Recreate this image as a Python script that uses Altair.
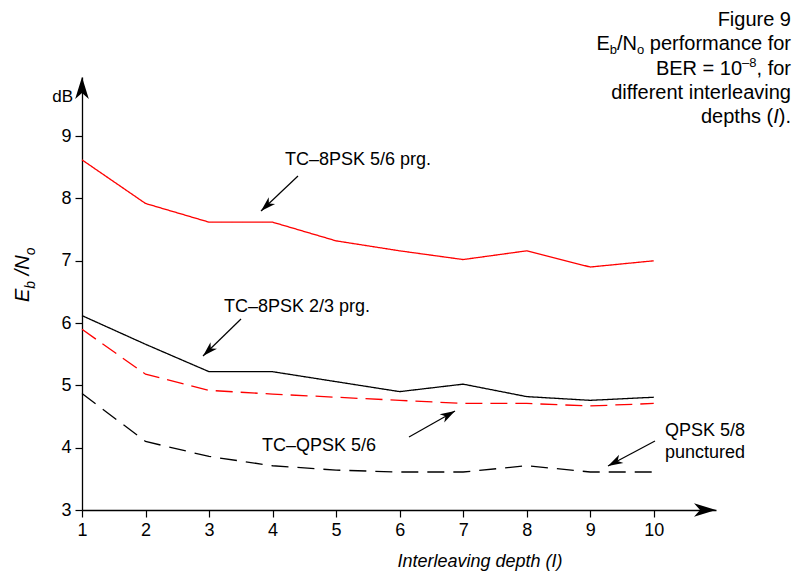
import math
import altair as alt
import pandas as pd

# ---------------- data ----------------
depth = [1, 2, 3, 4, 5, 6, 7, 8, 9, 10]
tc8psk_56 = [8.62, 7.92, 7.62, 7.62, 7.32, 7.16, 7.02, 7.16, 6.90, 7.00]
tc8psk_23 = [6.12, 5.66, 5.22, 5.22, 5.06, 4.90, 5.02, 4.82, 4.76, 4.81]
tcqpsk_56 = [5.90, 5.18, 4.92, 4.86, 4.81, 4.76, 4.71, 4.71, 4.67, 4.71]
qpsk_58 = [4.87, 4.10, 3.86, 3.71, 3.64, 3.61, 3.61, 3.71, 3.61, 3.61]
series_names = ["TC-8PSK 5/6 prg.", "TC-8PSK 2/3 prg.", "TC-QPSK 5/6", "QPSK 5/8 punctured"]
series_values = [tc8psk_56, tc8psk_23, tcqpsk_56, qpsk_58]
series_colors = ["#ff0000", "#000000", "#ff0000", "#000000"]
series_dash = [[1, 0], [1, 0], [17, 8], [17, 9]]
x_ticks = [1, 2, 3, 4, 5, 6, 7, 8, 9, 10]
y_ticks = [3, 4, 5, 6, 7, 8, 9]

FONT = "Liberation Sans"
W, H = 634, 433
X_DOMAIN = [1, 10.98]
Y_DOMAIN = [3, 9.95]
OX, OY = 82, 77  # page position of plot origin

rows = []
for name, vals in zip(series_names, series_values):
    for d, v in zip(depth, vals):
        rows.append({"series": name, "depth": d, "ebno": v})
df = pd.DataFrame(rows)

xs = alt.Scale(domain=X_DOMAIN, nice=False, zero=False)
ys = alt.Scale(domain=Y_DOMAIN, nice=False, zero=False)

lines = alt.Chart(df).mark_line(strokeWidth=1.3).encode(
    x=alt.X("depth:Q", scale=xs,
            axis=alt.Axis(values=x_ticks, title=None, grid=False, tickSize=7,
                          labelFontSize=18, labelFont=FONT, labelPadding=4,
                          domainColor="black", tickColor="black", labelColor="black",
                          domainWidth=1.3, tickWidth=1.2, labelFlush=False)),
    y=alt.Y("ebno:Q", scale=ys,
            axis=alt.Axis(values=y_ticks, title=None, grid=False, tickSize=7,
                          labelFontSize=18, labelFont=FONT, labelPadding=4,
                          domainColor="black", tickColor="black", labelColor="black",
                          domainWidth=1.3, tickWidth=1.2, labelFlush=False)),
    color=alt.Color("series:N", scale=alt.Scale(domain=series_names, range=series_colors), legend=None),
    strokeDash=alt.StrokeDash("series:N", scale=alt.Scale(domain=series_names, range=series_dash), legend=None),
    detail="series:N",
)

layers = [lines]
one = pd.DataFrame({"a": [0]})

WID = {" ": 278, "(": 333, ")": 333, ",": 278, ".": 278, "/": 278, "=": 584, "–": 556,
       "B": 667, "E": 667, "F": 611, "I": 278, "N": 722, "R": 722, "a": 556, "b": 556,
       "c": 500, "d": 556, "e": 556, "f": 278, "g": 556, "h": 556, "i": 222, "l": 222,
       "m": 833, "n": 556, "o": 556, "p": 556, "r": 333, "s": 500, "t": 278, "u": 556, "v": 500}
for ch in "0123456789":
    WID[ch] = 556


def tw(s, size):
    return sum(WID.get(c, 556) for c in s) * size / 1000.0


def txt(s, px, py, size=18, italic=False, align="left", angle=0):
    m = alt.Chart(one).mark_text(text=s, font=FONT, fontSize=size, align=align,
                                 baseline="alphabetic", angle=angle, color="black",
                                 fontStyle="italic" if italic else "normal")
    return m.encode(x=alt.value(px - OX), y=alt.value(py - OY))


def run(pieces, right, base):
    """pieces: (text, size, dy, italic, gap_before); right-aligned line ending at page x=right"""
    total = sum(tw(p[0], p[1]) + p[4] for p in pieces)
    x = right - total
    out = []
    for t, s, dy, it, gap in pieces:
        x += gap
        out.append(txt(t, x, base + dy, s, it))
        x += tw(t, s)
    return out


ARROW = "M0,0 L0.62,2 L0,1.45 L-0.62,2 Z"


def head(px, py, ang, r):
    return alt.Chart(one).mark_point(shape=ARROW, filled=True, color="black", opacity=1,
                                     size=(2 * r) ** 2, angle=ang, strokeWidth=0).encode(
        x=alt.value(px - OX), y=alt.value(py - OY))


def arrow(x0, y0, x1, y1, r=7.5):
    ang = math.degrees(math.atan2(x1 - x0, -(y1 - y0))) % 360
    rule = alt.Chart(one).mark_rule(color="black", strokeWidth=1.2).encode(
        x=alt.value(x0 - OX), y=alt.value(y0 - OY), x2=alt.value(x1 - OX), y2=alt.value(y1 - OY))
    return [rule, head(x1, y1, ang, r)]


# axis arrowheads
layers.append(head(OX + W, OY + H, 90, 11))
layers.append(head(OX, OY, 0, 11))

# dB label
layers.append(txt("dB", 73, 102, 17, align="right"))

# y axis title (rotated)
yb = 302
layers.append(txt("E", 29, yb, 20, True, angle=270))
yb -= tw("E", 20)
layers.append(txt("b", 35, yb, 14, True, angle=270))
yb -= tw("b", 14) + tw(" ", 20)
layers.append(txt("/N", 29, yb, 20, True, angle=270))
yb -= tw("/N", 20)
layers.append(txt("o", 35, yb, 14, True, angle=270))

# x axis title
layers.append(txt("Interleaving depth (I)", 480, 567, 18, True, align="center"))

# series annotations
layers.append(txt("TC–8PSK 5/6 prg.", 285, 165))
layers += arrow(298, 176, 261, 211)
layers.append(txt("TC–8PSK 2/3 prg.", 224, 312))
layers += arrow(241, 319, 203, 356)
layers.append(txt("TC–QPSK 5/6", 262, 451))
layers += arrow(409, 437, 455, 411)
layers.append(txt("QPSK 5/8", 665, 436))
layers.append(txt("punctured", 665, 458))
layers += arrow(655, 441, 608, 466)

# figure caption (top right)
R = 791
CF, CS = 20, 13
SP = tw(" ", CF)
layers.append(txt("Figure 9", R, 26, CF, align="right"))
layers += run([("E", CF, 0, False, 0), ("b", CS, 4, False, 0), ("/N", CF, 0, False, 0),
               ("o", CS, 4, False, 0), ("performance for", CF, 0, False, SP)], R, 50)
layers += run([("BER = 10", CF, 0, False, 0), ("–8", CS, -8, False, 0), (", for", CF, 0, False, 0)], R, 75)
layers.append(txt("different interleaving", R, 99, CF, align="right"))
layers += run([("depths (", CF, 0, False, 0), ("I", CF, 0, True, 0), (").", CF, 0, False, 0)], R, 123)

chart = alt.layer(*layers).properties(
    width=W, height=H,
    autosize=alt.AutoSizeParams(type="none"),
    padding={"left": OX - 8, "top": OY - 8, "right": 792 - OX - W, "bottom": 564 - (OY - 8) - H},
).configure_view(stroke=None)

chart.save("out.html", embed_options={"renderer": "svg", "actions": False})
